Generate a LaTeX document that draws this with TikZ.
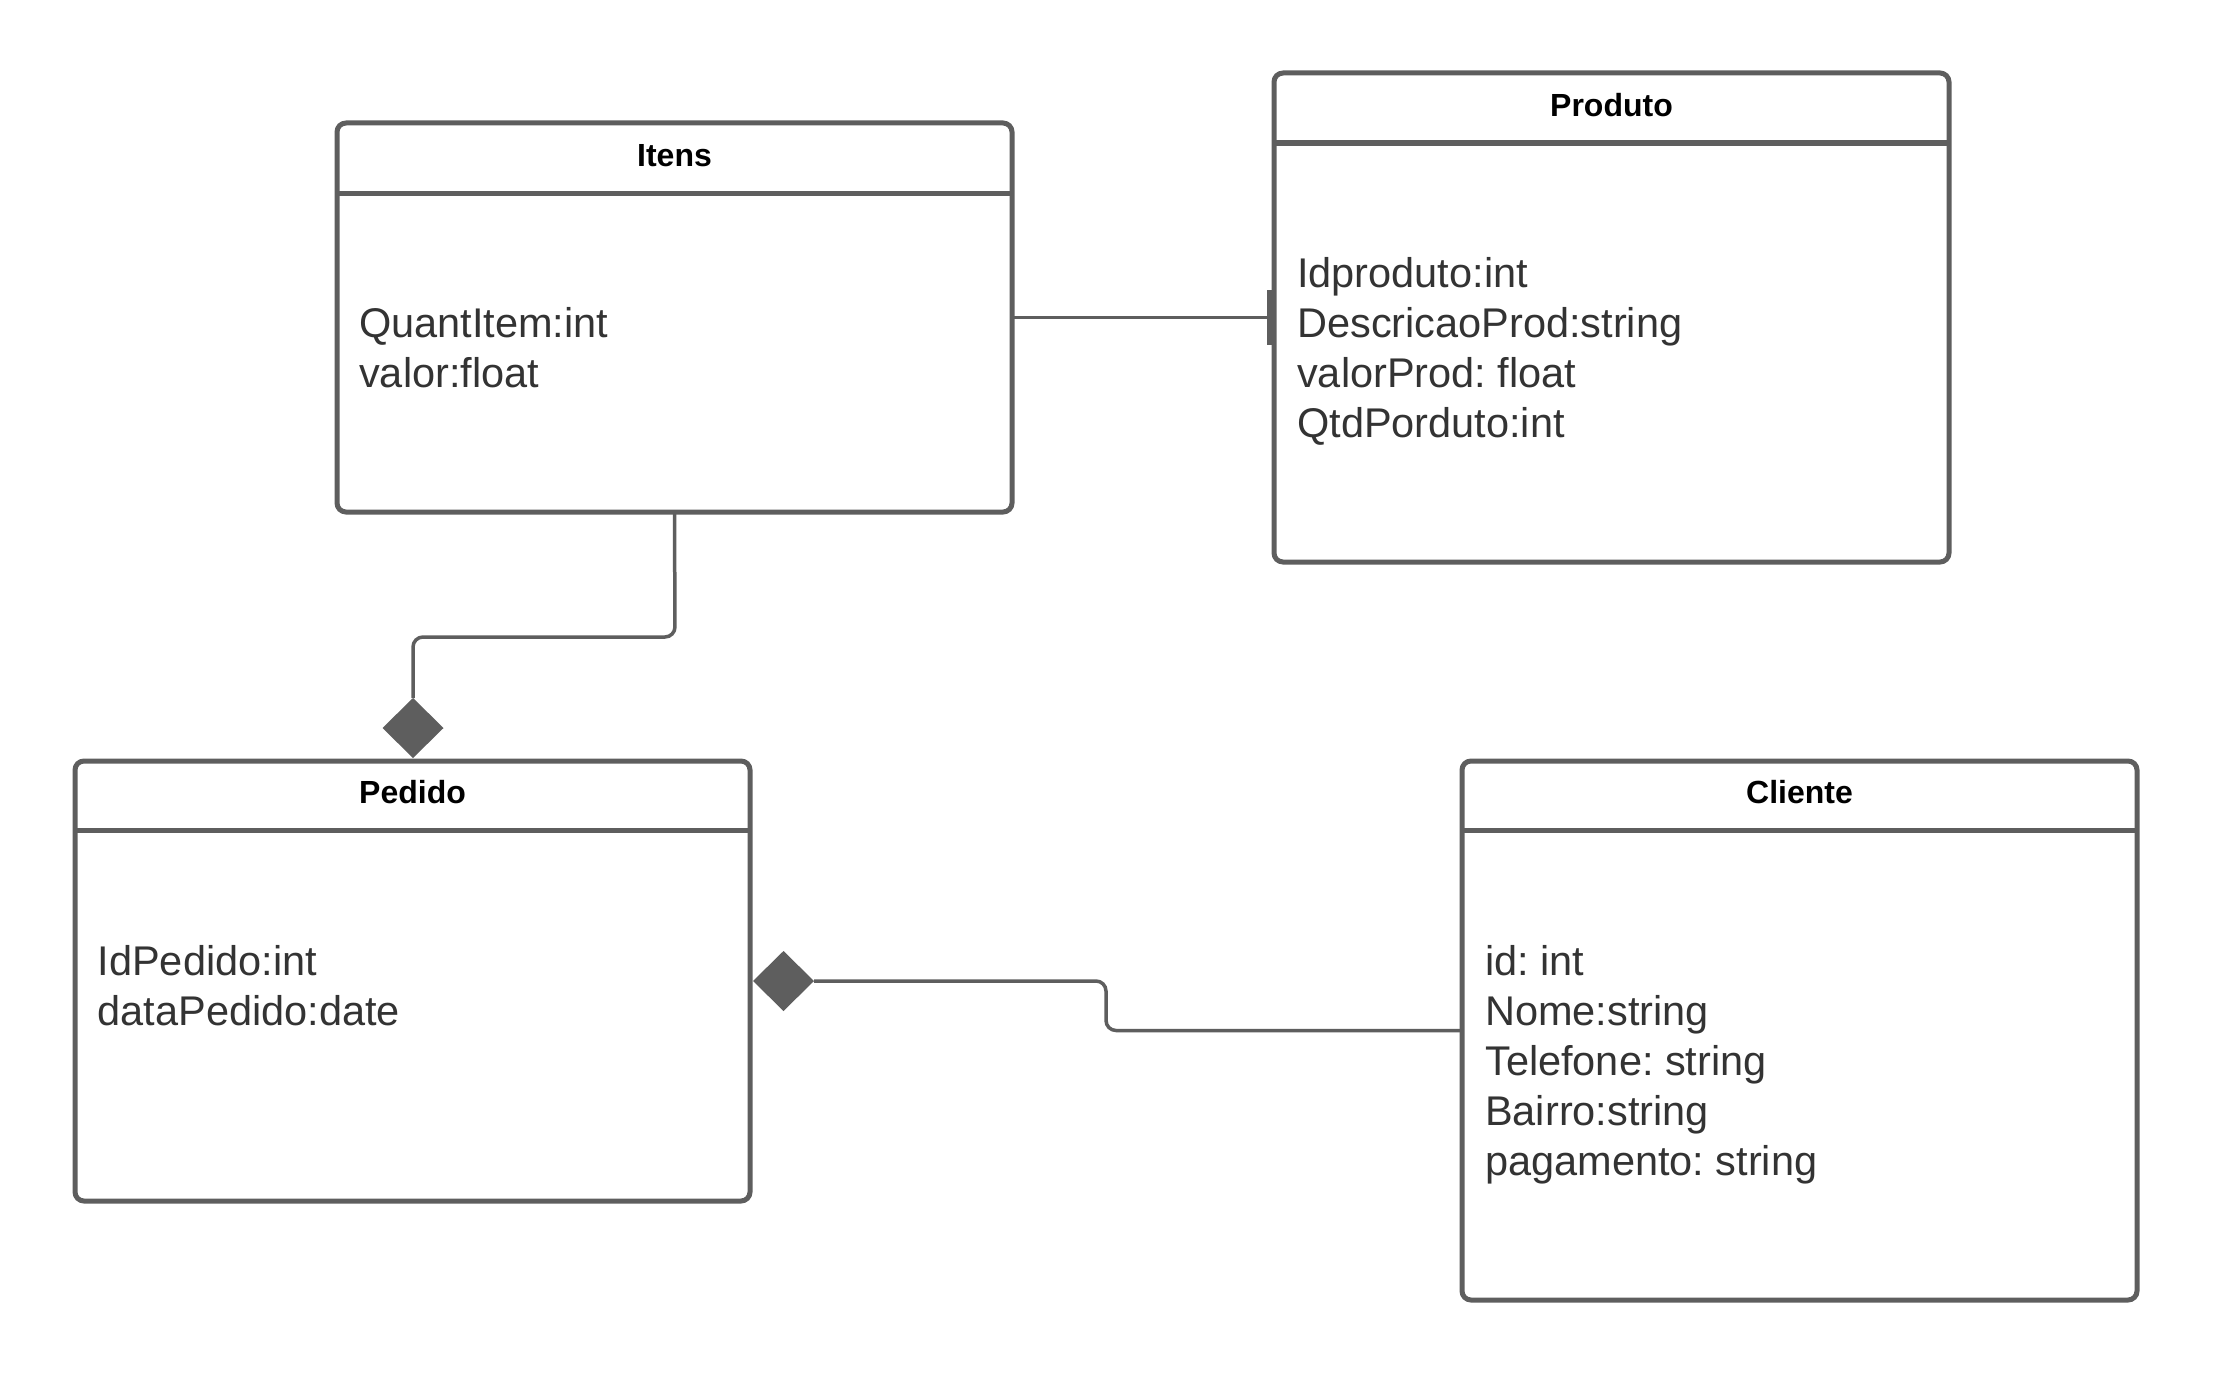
\documentclass[tikz,border=0pt]{standalone}
\usepackage{fontspec}
\setmainfont{Liberation Sans}
\usetikzlibrary{shapes.geometric,calc}
\definecolor{lc}{HTML}{5E5E5E}
\definecolor{tc}{HTML}{333333}
\frenchspacing
\begin{document}
\begin{tikzpicture}[x=1pt,y=-1pt,
  cls/.style={rectangle, draw=lc, line width=5pt, rounded corners=9pt, fill=white,
    inner sep=0pt, outer sep=0pt, minimum width=675pt},
  hline/.style={draw=lc, line width=5pt},
  hdr/.style={font=\bfseries\fontsize{32}{38}\selectfont, text=black, anchor=base, inner sep=0pt},
  attr/.style={font=\fontsize{41.5}{50}\selectfont, text=tc, anchor=base west, inner sep=0pt},
  conn/.style={draw=lc, line width=3.5pt, rounded corners=10pt},
  comp/.style={diamond, fill=lc, draw=none, inner sep=0pt, minimum width=61pt, minimum height=60pt, outer sep=0pt}
]
\useasboundingbox (0,0) rectangle (2213,1378);
\fill[white] (0,0) rectangle (2213,1378);

% class boxes
\node[cls, minimum height=389pt] (itens) at (674.5,317.5) {};
\node[cls, minimum height=489pt] (produto) at (1611.5,317.5) {};
\node[cls, minimum height=440pt] (pedido) at (412.5,981) {};
\node[cls, minimum height=539pt] (cliente) at (1799.5,1030.5) {};

% header separators
\draw[hline] ($(itens.north west)+(0,70)$) -- ($(itens.north east)+(0,70)$);
\draw[hline] ($(produto.north west)+(0,70)$) -- ($(produto.north east)+(0,70)$);
\draw[hline] ($(pedido.north west)+(0,69)$) -- ($(pedido.north east)+(0,69)$);
\draw[hline] ($(cliente.north west)+(0,69)$) -- ($(cliente.north east)+(0,69)$);

% headers
\node[hdr] (itensT) at (674.5,166) {Itens};
\node[hdr] (produtoT) at (1611.5,117) {Produto};
\node[hdr] (pedidoT) at (412.5,803) {Pedido};
\node[hdr] (clienteT) at (1799.5,803) {Cliente};

% attributes
\node[attr] (it1) at (359,337) {QuantItem:int};
\node[attr] (it2) at (359,387) {valor:float};

\node[attr] (pr1) at (1297,287) {Idproduto:int};
\node[attr] (pr2) at (1297,337) {DescricaoProd:string};
\node[attr] (pr3) at (1297,387) {valorProd: float};
\node[attr] (pr4) at (1297,437) {QtdPorduto:int};

\node[attr] (pe1) at (97.5,975) {IdPedido:int};
\node[attr] (pe2) at (97.5,1025) {dataPedido:date};

\node[attr] (cl1) at (1485,975) {id: int};
\node[attr] (cl2) at (1485,1025) {Nome:string};
\node[attr] (cl3) at (1485,1075) {Telefone: string};
\node[attr] (cl4) at (1485,1125) {Bairro:string};
\node[attr] (cl5) at (1485,1175) {pagamento: string};

% connector Itens - Produto with tee
\draw[conn] (itens.east) -- (produto.west);
\draw[draw=lc, line width=7pt] ($(produto.west)+(-4,-27.5)$) -- ($(produto.west)+(-4,27.5)$);

% composition Itens -> Pedido
\node[comp, anchor=south] (dia1) at ($(pedido.north)+(0.5,-3)$) {};
\coordinate (m1) at (675,637);
\draw[conn] (itens.south) -- (m1) -| (dia1.north);

% composition Cliente -> Pedido
\node[comp, anchor=west] (dia2) at ($(pedido.east)+(3,0)$) {};
\coordinate (m2) at (1106,981);
\draw[conn] (dia2.east) -- (m2) |- (cliente.west);
\end{tikzpicture}
\end{document}
